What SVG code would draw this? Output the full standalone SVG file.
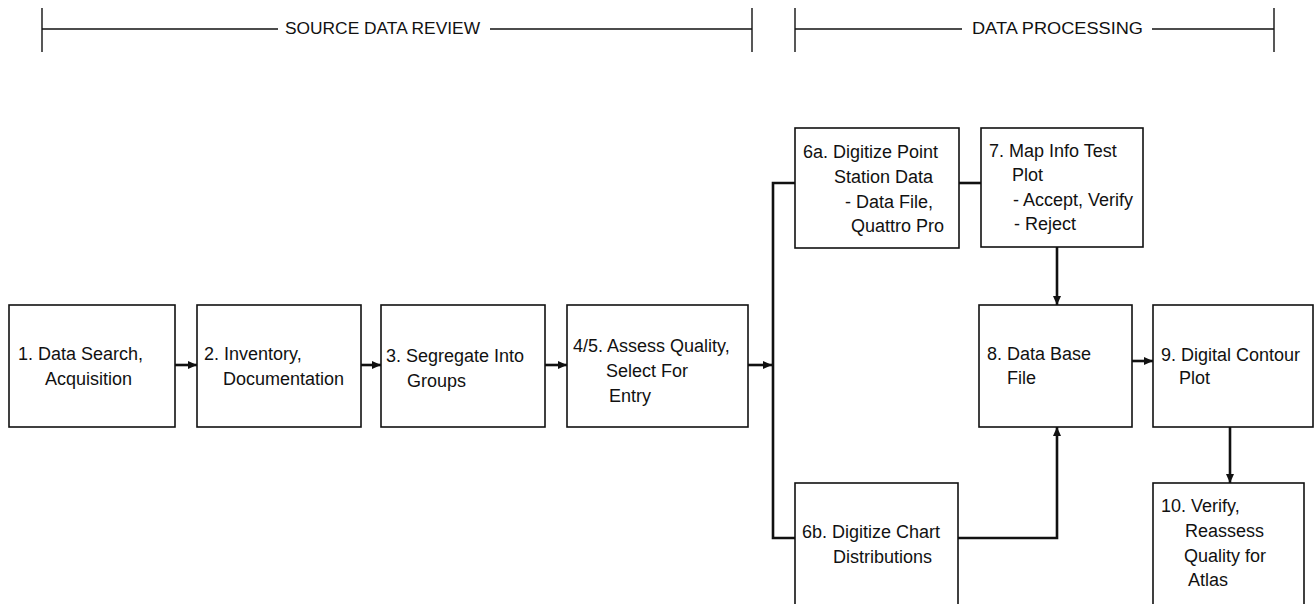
<svg xmlns="http://www.w3.org/2000/svg" width="1315" height="604" viewBox="0 0 1315 604">
  <style>
    .box { fill: #ffffff; stroke: #111111; stroke-width: 1.6; }
    .lbl { font-family: "Liberation Sans", Arial, Helvetica, sans-serif; font-size: 18px; fill: #111111; }
    .hdr { font-family: "Liberation Sans", Arial, Helvetica, sans-serif; font-size: 16px; fill: #111111; }
    .rule { stroke: #111111; stroke-width: 1.4; fill: none; }
    .conn { stroke: #111111; stroke-width: 2.6; fill: none; }
    .arr { marker-end: url(#head); }
  </style>
  <defs>
    <marker id="head" markerUnits="userSpaceOnUse" markerWidth="10" markerHeight="10" refX="9" refY="5" orient="auto">
      <path d="M0,1 L9,5 L0,9 Z" fill="#111111"/>
    </marker>
  </defs>
  <rect width="1315" height="604" fill="#ffffff"/>

  <!-- phase brackets -->
  <g id="phase-source">
    <line class="rule" x1="42" y1="8" x2="42" y2="52"/>
    <line class="rule" x1="752" y1="8" x2="752" y2="52"/>
    <line class="rule" x1="42" y1="29" x2="278" y2="29"/>
    <line class="rule" x1="490" y1="29" x2="752" y2="29"/>
    <text class="hdr" x="285" y="34" textLength="195" lengthAdjust="spacingAndGlyphs">SOURCE DATA REVIEW</text>
  </g>
  <g id="phase-processing">
    <line class="rule" x1="795" y1="8" x2="795" y2="52"/>
    <line class="rule" x1="1274" y1="8" x2="1274" y2="52"/>
    <line class="rule" x1="795" y1="29" x2="962" y2="29"/>
    <line class="rule" x1="1152" y1="29" x2="1274" y2="29"/>
    <text class="hdr" x="972" y="34" textLength="171" lengthAdjust="spacingAndGlyphs">DATA PROCESSING</text>
  </g>

  <!-- connectors -->
  <g id="connectors">
    <line class="conn arr" x1="175" y1="365" x2="197" y2="365"/>
    <line class="conn arr" x1="361" y1="365" x2="381" y2="365"/>
    <line class="conn arr" x1="545" y1="365" x2="567" y2="365"/>
    <line class="conn arr" x1="748" y1="365" x2="772" y2="365"/>
    <polyline class="conn" points="795,183 773,183 773,538 795,538"/>
    <line class="conn" x1="959" y1="183" x2="981" y2="183"/>
    <line class="conn arr" x1="1057" y1="247" x2="1057" y2="305"/>
    <polyline class="conn arr" points="958,538 1057,538 1057,427"/>
    <line class="conn arr" x1="1132" y1="361" x2="1153" y2="361"/>
    <line class="conn arr" x1="1230" y1="427" x2="1230" y2="483"/>
  </g>

  <!-- process steps -->
  <g id="step1">
    <rect class="box" x="9" y="305" width="166" height="122"/>
    <text class="lbl" x="18" y="360">1. Data Search,</text>
    <text class="lbl" x="45" y="385">Acquisition</text>
  </g>
  <g id="step2">
    <rect class="box" x="197" y="305" width="164" height="122"/>
    <text class="lbl" x="204" y="360">2. Inventory,</text>
    <text class="lbl" x="223" y="385">Documentation</text>
  </g>
  <g id="step3">
    <rect class="box" x="381" y="305" width="164" height="122"/>
    <text class="lbl" x="386" y="362">3. Segregate Into</text>
    <text class="lbl" x="407" y="387">Groups</text>
  </g>
  <g id="step4-5">
    <rect class="box" x="567" y="305" width="181" height="122"/>
    <text class="lbl" x="573" y="352">4/5. Assess Quality,</text>
    <text class="lbl" x="606" y="377">Select For</text>
    <text class="lbl" x="609" y="402">Entry</text>
  </g>
  <g id="step6a">
    <rect class="box" x="795" y="128" width="164" height="120"/>
    <text class="lbl" x="803" y="158">6a. Digitize Point</text>
    <text class="lbl" x="834" y="183">Station Data</text>
    <text class="lbl" x="845" y="208">- Data File,</text>
    <text class="lbl" x="851" y="232">Quattro Pro</text>
  </g>
  <g id="step7">
    <rect class="box" x="981" y="128" width="162" height="119"/>
    <text class="lbl" x="989" y="157">7. Map Info Test</text>
    <text class="lbl" x="1012" y="181">Plot</text>
    <text class="lbl" x="1013" y="206">- Accept, Verify</text>
    <text class="lbl" x="1014" y="230">- Reject</text>
  </g>
  <g id="step8">
    <rect class="box" x="979" y="305" width="153" height="122"/>
    <text class="lbl" x="987" y="360">8. Data Base</text>
    <text class="lbl" x="1007" y="384">File</text>
  </g>
  <g id="step9">
    <rect class="box" x="1153" y="305" width="160" height="122"/>
    <text class="lbl" x="1161" y="361">9. Digital Contour</text>
    <text class="lbl" x="1179" y="384">Plot</text>
  </g>
  <g id="step6b">
    <rect class="box" x="795" y="483" width="163" height="130"/>
    <text class="lbl" x="802" y="538">6b. Digitize Chart</text>
    <text class="lbl" x="833" y="563">Distributions</text>
  </g>
  <g id="step10">
    <rect class="box" x="1153" y="483" width="151" height="130"/>
    <text class="lbl" x="1161" y="512">10. Verify,</text>
    <text class="lbl" x="1185" y="537">Reassess</text>
    <text class="lbl" x="1184" y="562">Quality for</text>
    <text class="lbl" x="1188" y="586">Atlas</text>
  </g>
</svg>
